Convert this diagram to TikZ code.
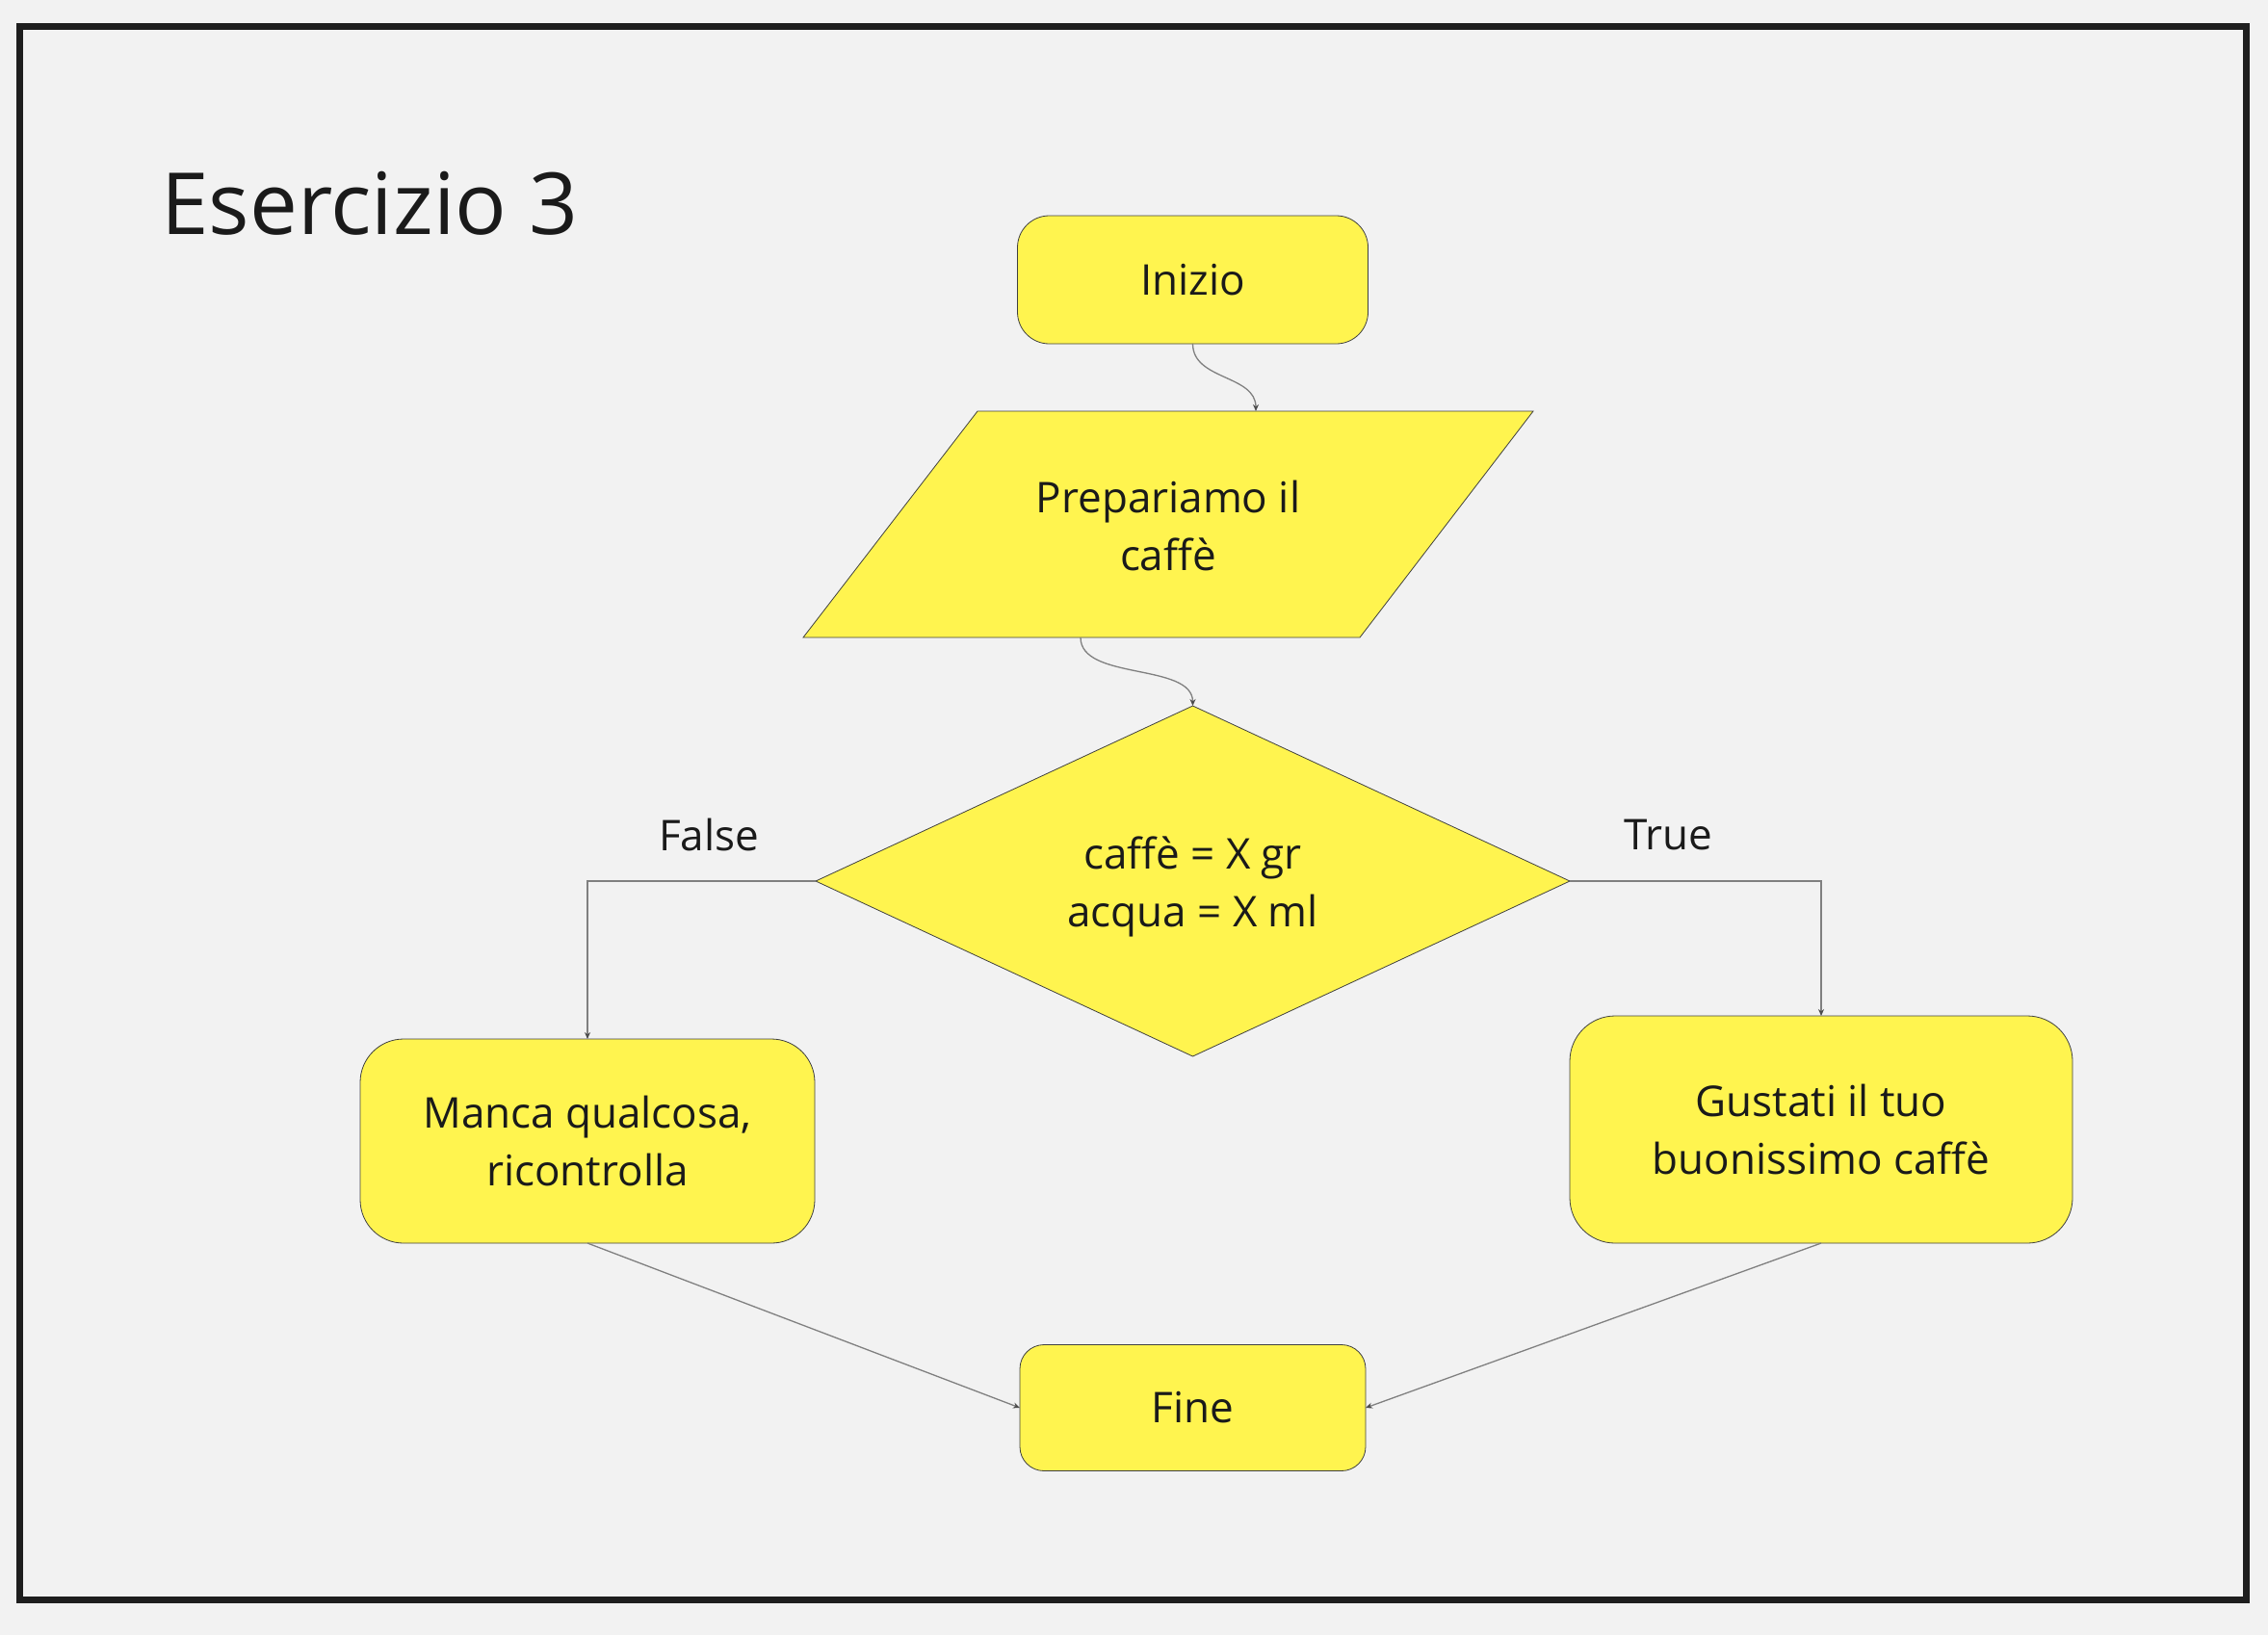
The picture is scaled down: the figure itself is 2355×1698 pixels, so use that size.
\documentclass[tikz,border=0pt]{standalone}
\usepackage{fontspec}
\setmainfont{Open Sans}
\usetikzlibrary{shapes.geometric,arrows.meta}
\definecolor{bg}{HTML}{F2F2F2}
\definecolor{ylw}{HTML}{FFF44F}
\definecolor{ink}{HTML}{1A1A1A}
\definecolor{conncol}{HTML}{808080}
\definecolor{framecol}{HTML}{1E1E1E}
\tikzset{
  box/.style={draw=black!75, line width=0.8pt, fill=ylw, rounded corners=#1, inner sep=0pt, outer sep=0pt, text=ink, font=\fontsize{44}{60}\selectfont, align=center},
  lbl/.style={text=ink, font=\fontsize{44}{60}\selectfont, inner sep=0pt},
  conn/.style={draw=conncol, line width=1.3pt, -{Stealth[length=7pt,width=6pt,color=black!70]}},
}
\begin{document}
\begin{tikzpicture}[x=1pt,y=-1pt]
\fill[bg] (0,0) rectangle (2355,1698);
\useasboundingbox (0,0) rectangle (2355,1698);
\draw[line width=7pt, framecol] (20.5,27.5) rectangle (2332,1661);

\node[lbl, anchor=base west, font=\fontsize{89}{104}\selectfont] (title) at (167,243) {Esercizio 3};

\node[box=33pt, minimum width=364pt, minimum height=133pt] (ini) at (1238.5,290.5) {Inizio};

\filldraw[fill=ylw, draw=black!75, line width=0.8pt] (1015,427) -- (1592,427) -- (1412,662) -- (834,662) -- cycle;
\node[lbl, align=center] (prep) at (1213,546) {Prepariamo il\\caffè};
\coordinate (prepTop) at (1304,427);
\coordinate (prepBot) at (1122,662);

\node[diamond, draw=black!75, line width=0.8pt, fill=ylw, minimum width=783pt, minimum height=364pt, inner sep=0pt, outer sep=0pt, aspect=2.15] (dec) at (1238.5,915) {};
\node[lbl, align=center] (dectext) at (1238.5,921) {caffè = X gr\\acqua = X ml};

\node[box=45pt, minimum width=472pt, minimum height=212pt] (manca) at (610,1185) {Manca qualcosa,\\ricontrolla};
\node[box=47pt, minimum width=522pt, minimum height=236pt] (gust) at (1891,1173) {Gustati il tuo\\buonissimo caffè};
\node[box=25pt, minimum width=359pt, minimum height=131pt] (fine) at (1238.5,1462) {Fine};

\node[lbl] (lfalse) at (736,867) {False};
\node[lbl] (ltrue) at (1732,867) {True};

\draw[conn] (ini.south) .. controls +(0,38) and +(0,-38) .. (prepTop);
\draw[conn] (prepBot) .. controls +(0,45) and +(0,-45) .. (dec.north);
\draw[conn] (dec.west) -| (manca.north);
\draw[conn] (dec.east) -| (gust.north);
\draw[conn] (manca.south) -- (fine.west);
\draw[conn] (gust.south) -- (fine.east);
\end{tikzpicture}
\end{document}
